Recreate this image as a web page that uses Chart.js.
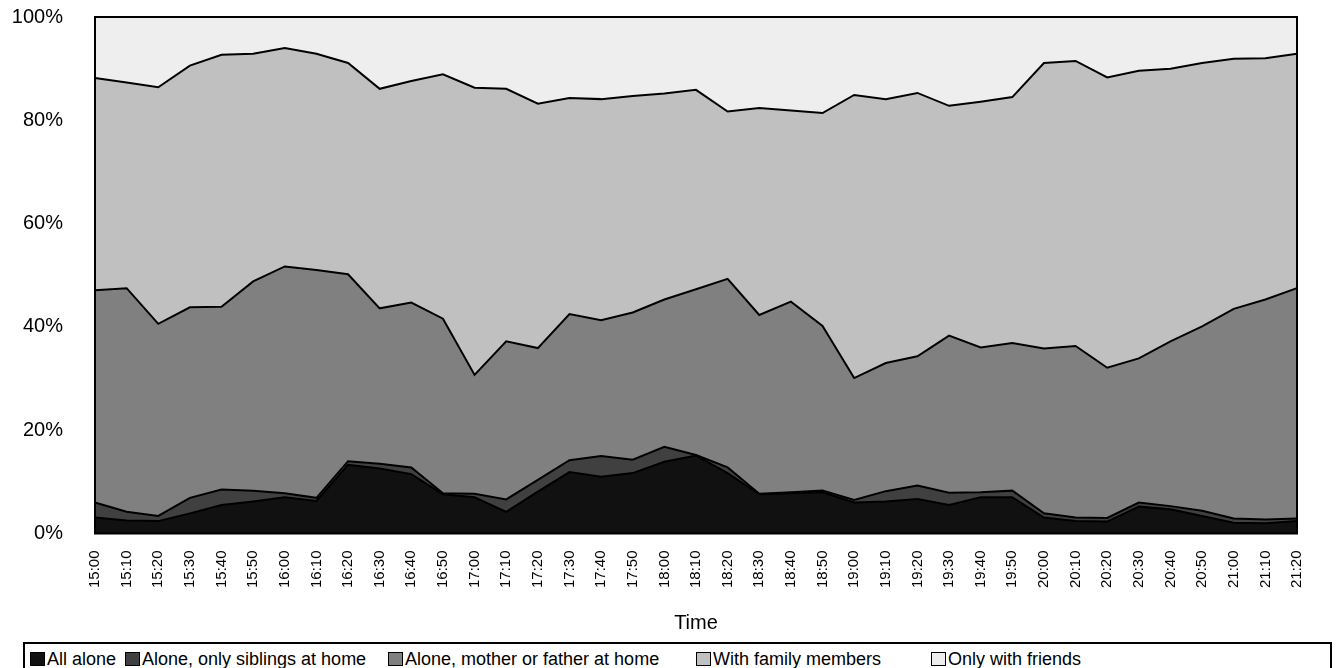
<!DOCTYPE html>
<html>
<head>
<meta charset="utf-8">
<script src="https://cdn.jsdelivr.net/npm/chart.js@4.4.1/dist/chart.umd.min.js"></script>
<style>
  html, body { margin: 0; padding: 0; background: #fff; overflow: hidden; }
  #wrap { position: relative; width: 1341px; height: 668px; }
  #chart { position: absolute; left: 0; top: 0; }
  #legend {
    position: absolute; left: 23px; top: 642px; width: 1309px; height: 40px;
    border: 2px solid #000; box-sizing: border-box;
    font: 18px "Liberation Sans", Arial, sans-serif; color: #000; white-space: nowrap;
  }
  #legend .item { position: absolute; top: 4px; display: flex; align-items: center; line-height: 22px; }
  #legend .box { width: 13px; height: 12px; border: 1.5px solid #000; margin-right: 2px; }
</style>
</head>
<body>
<div id="wrap">
  <canvas id="chart" width="1341" height="640"></canvas>
  <div id="legend"></div>
</div>
<script>
// time of day, every 10 minutes
const times = ['15:00', '15:10', '15:20', '15:30', '15:40', '15:50', '16:00', '16:10', '16:20', '16:30',
  '16:40', '16:50', '17:00', '17:10', '17:20', '17:30', '17:40', '17:50', '18:00', '18:10',
  '18:20', '18:30', '18:40', '18:50', '19:00', '19:10', '19:20', '19:30', '19:40', '19:50',
  '20:00', '20:10', '20:20', '20:30', '20:40', '20:50', '21:00', '21:10', '21:20'];

// shares in % (they add up to 100 at every time)
const allAlone = [3.1, 2.5, 2.4, 3.9, 5.5, 6.2, 7.0, 6.3, 13.3, 12.6,
  11.5, 7.6, 7.0, 4.2, 8.1, 11.9, 11.0, 11.7, 13.9, 15.1,
  11.7, 7.6, 7.8, 8.0, 6.0, 6.2, 6.7, 5.5, 7.0, 7.0,
  3.1, 2.4, 2.3, 5.2, 4.7, 3.4, 2.1, 2.0, 2.4];
const siblingsAtHome = [2.9, 1.7, 1.0, 3.0, 3.0, 2.1, 0.8, 0.6, 0.7, 0.9,
  1.3, 0.2, 0.7, 2.4, 2.3, 2.3, 4.0, 2.6, 2.9, 0.1,
  1.1, 0.1, 0.2, 0.3, 0.5, 2.0, 2.6, 2.4, 1.0, 1.3,
  0.8, 0.7, 0.7, 0.8, 0.6, 1.0, 0.8, 0.7, 0.5];
const parentAtHome = [41.1, 43.3, 37.2, 36.9, 35.4, 40.5, 43.9, 44.1, 36.2, 30.1,
  31.9, 33.8, 23.0, 30.6, 25.5, 28.3, 26.3, 28.5, 28.5, 32.1,
  36.5, 34.6, 36.9, 31.9, 23.6, 24.8, 25.0, 30.4, 28.0, 28.6,
  31.9, 33.2, 29.1, 27.9, 31.9, 35.7, 40.6, 42.6, 44.6];
const withFamily = [41.1, 39.8, 45.8, 46.8, 48.8, 44.1, 42.3, 41.9, 40.9, 42.5,
  42.9, 47.3, 55.6, 48.9, 47.3, 41.8, 42.8, 41.9, 39.9, 38.6,
  32.4, 40.1, 37.0, 41.2, 54.8, 51.1, 51.0, 44.5, 47.6, 47.6,
  55.3, 55.2, 56.2, 55.7, 52.8, 51.0, 48.4, 46.7, 45.4];
const onlyFriends = [11.8, 12.7, 13.6, 9.4, 7.3, 7.1, 6.0, 7.1, 8.9, 13.9,
  12.4, 11.1, 13.7, 13.9, 16.8, 15.7, 15.9, 15.3, 14.8, 14.1,
  18.3, 17.6, 18.1, 18.6, 15.1, 15.9, 14.7, 17.2, 16.4, 15.5,
  8.9, 8.5, 11.7, 10.4, 10.0, 8.9, 8.1, 8.0, 7.1];

const seriesNames = ['All alone', 'Alone, only siblings at home', 'Alone, mother or father at home',
  'With family members', 'Only with friends'];
const seriesColors = ['#111111', '#404040', '#808080', '#c0c0c0', '#eeeeee'];
// x of each legend entry inside the legend frame
const legendX = [5, 100, 363, 671, 906];

Chart.defaults.font.family = '"Liberation Sans", Arial, sans-serif';
Chart.defaults.color = '#000';

const seriesData = [allAlone, siblingsAtHome, parentAtHome, withFamily, onlyFriends];
const datasets = seriesData.map((values, i) => ({
  label: seriesNames[i],
  data: values,
  backgroundColor: seriesColors[i],
  borderColor: '#000',
  borderWidth: 2,
  pointRadius: 0,
  tension: 0,
  fill: i === 0 ? 'origin' : '-1'
}));

// black frame round the plot area
const plotFrame = {
  id: 'plotFrame',
  afterDatasetsDraw(chart) {
    const { ctx, chartArea: a } = chart;
    ctx.save();
    ctx.strokeStyle = '#000';
    ctx.lineWidth = 2;
    ctx.strokeRect(a.left, a.top, a.right - a.left, a.bottom - a.top);
    ctx.restore();
  }
};

const chart = new Chart(document.getElementById('chart'), {
  type: 'line',
  data: { labels: times, datasets: datasets },
  options: {
    responsive: false,
    animation: false,
    layout: { padding: { left: 12, right: 44, top: 17, bottom: 0 } },
    plugins: {
      legend: { display: false },
      tooltip: { enabled: false }
    },
    scales: {
      x: {
        offset: false,
        grid: { display: false, drawTicks: false },
        border: { display: false },
        ticks: { autoSkip: false, maxRotation: 90, minRotation: 90, padding: 17, font: { size: 15 } },
        title: { display: true, text: 'Time', font: { size: 20 }, padding: { top: 23, bottom: 5 } },
        afterFit(s) { s.height = 106.5; s.paddingLeft = 0; s.paddingRight = 0; }
      },
      y: {
        stacked: true,
        min: 0,
        max: 100,
        grid: { display: false, drawTicks: false },
        border: { display: false },
        ticks: { stepSize: 20, padding: 32, font: { size: 20 }, callback: v => v + '%' },
        afterFit(s) { s.width = 83; s.paddingTop = 0; s.paddingBottom = 0; }
      }
    }
  },
  plugins: [plotFrame]
});

// legend as html, built from the chart's own legend items
const legendEl = document.getElementById('legend');
Chart.defaults.plugins.legend.labels.generateLabels(chart).forEach((item, i) => {
  const el = document.createElement('span');
  el.className = 'item';
  el.style.left = legendX[i] + 'px';
  const box = document.createElement('span');
  box.className = 'box';
  box.style.background = item.fillStyle;
  el.appendChild(box);
  el.appendChild(document.createTextNode(item.text));
  legendEl.appendChild(el);
});
</script>
</body>
</html>
